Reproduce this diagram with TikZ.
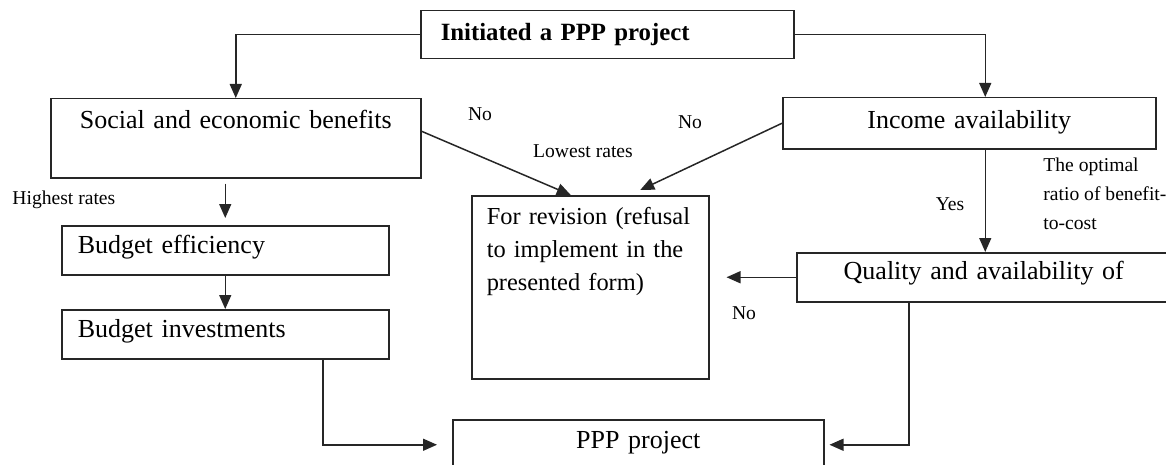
\documentclass[tikz,border=0pt]{standalone}
\usepackage{fontspec}
\setmainfont{Liberation Serif}
\usetikzlibrary{positioning,arrows.meta}

\begin{document}
\begin{tikzpicture}[x=0.5pt,y=-0.5pt,>={Triangle[length=7pt,width=6pt]},
    box/.style={draw=black!85,line width=0.75pt,inner ysep=0pt,anchor=north west,
      font=\fontsize{13}{15.5}\selectfont},
    lbl/.style={inner sep=0pt,font=\fontsize{9.8}{14.25}\selectfont},
    conn/.style={->,line width=0.75pt,draw=black!85}]
  \useasboundingbox (0,0) rectangle (1166,465);

  % boxes
  \node[box,inner xsep=10pt,text width=166.5pt,align=left,text height=15pt,text depth=9pt,
    font=\fontsize{12.4}{15.5}\selectfont\bfseries] (init) at (420,10) {Initiated a PPP project};
  \node[box,inner xsep=4pt,text width=177pt,align=center,text height=15pt,text depth=24.5pt]
    (social) at (50,98) {Social and economic benefits};
  \node[box,inner xsep=4pt,text width=178.5pt,align=center,text height=15.5pt,text depth=10pt]
    (income) at (782,97) {Income availability};
  \node[box,inner xsep=7.5pt,text width=103.5pt,align=left,text height=14.5pt,text depth=77pt,
    font=\fontsize{12.2}{16.5}\selectfont] (revision) at (471,195)
    {For revision (refusal\\to implement in the\\presented form)};
  \node[box,inner xsep=8pt,text width=147.5pt,align=left,text height=14pt,text depth=10.5pt]
    (effic) at (61,225) {Budget efficiency};
  \node[box,inner xsep=8pt,text width=147.5pt,align=left,text height=14pt,text depth=10.5pt]
    (invest) at (61,309) {Budget investments};
  \node[box,inner xsep=4pt,text width=179pt,align=center,text height=13.5pt,text depth=11pt]
    (quality) at (796,252) {Quality and availability of};
  \node[box,inner xsep=4pt,text width=177.5pt,align=center,text height=14.5pt,text depth=10.5pt]
    (ppp) at (452,419) {PPP project};

  % labels
  \node[lbl] (no1) at (480,114) {No};
  \node[lbl] (lowest) at (583,151) {Lowest rates};
  \node[lbl] (no2) at (690,122) {No};
  \node[lbl,anchor=west] (highest) at (12,200) {Highest rates};
  \node[lbl] (yes) at (950,204) {Yes};
  \node[lbl,anchor=north west,align=left] (optimal) at (1043,158)
    {The optimal\\ratio of benefit-\\to-cost};
  \node[lbl] (no3) at (744,313) {No};

  % connectors
  \draw[conn] (init.west) -| (social.north);
  \draw[conn] (init.east) -| ([xshift=8pt]income.north);
  \draw[conn,shorten >=3.5pt] ([yshift=-2.5pt]social.south -| effic.north) -- (effic.north);
  \draw[conn] (effic.south) -- (invest.north);
  \draw[conn] ([xshift=48.75pt]invest.south) |- ([xshift=-7.5pt]ppp.west);
  \draw[conn] ([xshift=-37.5pt]quality.south) |- ([xshift=2.5pt]ppp.east);
  \draw[conn] ([yshift=3.5pt]social.east) -- ([xshift=-9.75pt]revision.north);
  \draw[conn] (income.west) -- ([xshift=25pt,yshift=2.5pt]revision.north);
  \draw[conn] ([xshift=8pt]income.south) -- ([xshift=8pt]income.south |- quality.north);
  \draw[conn] (quality.west) -- ([xshift=8.5pt]revision.east |- quality.west);
\end{tikzpicture}
\end{document}
